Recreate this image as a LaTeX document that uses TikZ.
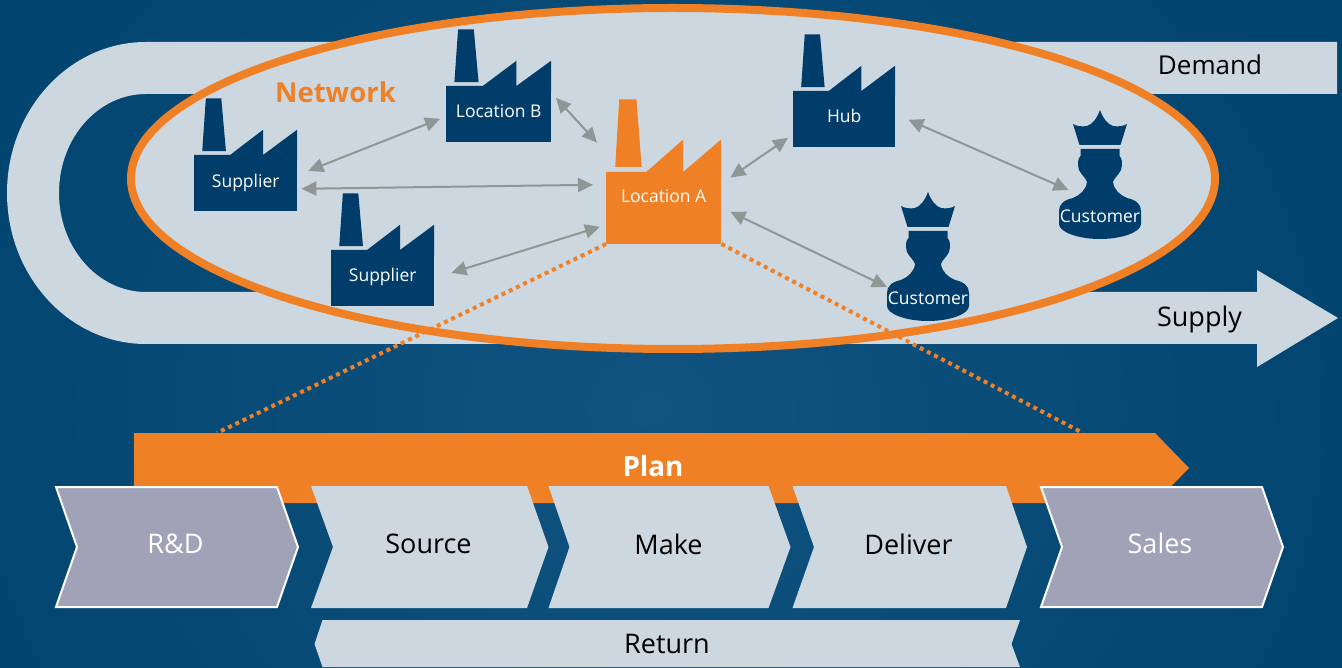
\documentclass[tikz,border=0pt]{standalone}
\usepackage{fontspec}
\setmainfont{Open Sans}
\usetikzlibrary{arrows.meta}
\definecolor{bgdark}{HTML}{00446F}
\definecolor{bglight}{HTML}{125380}
\definecolor{palegray}{HTML}{CDD7E0}
\definecolor{netorange}{HTML}{F08025}
\definecolor{navy}{HTML}{003D6A}
\definecolor{stepgray}{HTML}{A0A2B8}
\definecolor{linkgray}{HTML}{8E9796}
\tikzset{
	linkarrow/.style={draw=linkgray, line width=2pt, {Triangle[length=15pt,width=14pt]}-{Triangle[length=15pt,width=14pt]}},
	zoomline/.style={draw=netorange, line width=4pt, dash pattern=on 4pt off 4pt},
	smalllabel/.style={text=white, font=\fontsize{17.5}{21}\selectfont, inner sep=0pt},
	biglabel/.style={text=black, font=\fontsize{27}{32}\selectfont, inner sep=0pt},
	lightstep/.style={fill=palegray},
	outerstep/.style={fill=stepgray, draw=white, line width=2pt},
	factorybody/.style={rectangle, inner sep=0pt, anchor=south west, smalllabel},
	pics/factory/.style n args={5}{code={
		\fill[#1] ({#3*0.115},{-#4*2.01}) -- ({#3*0.265},{-#4*2.01}) -- ({#3*0.31},{-#4*1.07}) -- ({#3*0.08},{-#4*1.07}) -- cycle;
		\fill[#1] (0,{-#4*0.9}) -- (0,{-#4}) -- ({#3*0.35},{-#4}) -- ({#3*0.67},{-#4*1.45}) -- ({#3*0.67},{-#4}) -- (#3,{-#4*1.45}) -- (#3,{-#4*0.9}) -- cycle;
		\node[factorybody, fill=#1, minimum width=#3 pt, minimum height=#4 pt] (-body) at (0,0) {\raisebox{#5pt}{#2}};
	}},
	pics/customer/.style={code={
		\fill[navy] (0,0) .. controls (3,8) and (7,14) .. (13,16) .. controls (18,17) and (24,16) .. (27,14) -- (20.5,35) -- (-20.5,35) -- (-27,14) .. controls (-24,16) and (-18,17) .. (-13,16) .. controls (-7,14) and (-3,8) .. (0,0) -- cycle;
		\fill[navy] (-19.5,39) -- (19.5,39) -- (19.5,46) .. controls (22,48) and (23,54) .. (21,60) .. controls (18,66) and (14,68) .. (13,72) .. controls (14,80) and (20,85) .. (27,88) .. controls (36,90) and (41,94) .. (41,101) -- (41,114) .. controls (41,122) and (22,129) .. (0,129) .. controls (-22,129) and (-41,122) .. (-41,114) -- (-41,101) .. controls (-41,94) and (-36,90) .. (-27,88) .. controls (-20,85) and (-14,80) .. (-13,72) .. controls (-14,68) and (-18,66) .. (-21,60) .. controls (-23,54) and (-22,48) .. (-19.5,46) -- cycle;
		\node[smalllabel] (-label) at (0,106.5) {Customer};
	}}
}
\begin{document}
\begin{tikzpicture}[x=1pt,y=-1pt]
	\useasboundingbox (0,0) rectangle (1342,668);
	\clip (0,0) rectangle (1342,668);
	\shade[inner color=bglight, outer color=bgdark] (-100,-270) rectangle (1400,1090);

	% demand and supply band
	\fill[palegray] (146,42) -- (1337,42) -- (1337,94) -- (146,94) .. controls (98,94) and (59,138) .. (59,193) .. controls (59,248) and (98,292) .. (146,292) -- (1257,292) -- (1257,270) -- (1338,318) -- (1257,367) -- (1257,344) -- (146,344) .. controls (69,344) and (7,276) .. (7,193) .. controls (7,110) and (69,42) .. (146,42) -- cycle;
	\node[biglabel, font=\fontsize{26}{32}\selectfont] (demand) at (1210,64.5) {Demand};
	\node[biglabel] (supply) at (1199.5,319) {Supply};

	% network
	\draw[draw=netorange, fill=palegray, line width=8pt] (673,178.5) ellipse [x radius=542pt, y radius=170.5pt];
	\node[text=netorange, inner sep=0pt, font=\fontsize{27.5}{32}\selectfont\bfseries] (network) at (335.5,92) {Network};

	\pic (supA) at (194,211) {factory={navy}{Supplier}{103}{56}{2}};
	\pic (locB) at (446,142) {factory={navy}{Location B}{105}{56}{6}};
	\pic (supB) at (331,306) {factory={navy}{Supplier}{103}{56}{6}};
	\pic (hub) at (793,147) {factory={navy}{Hub}{102}{56}{6}};
	\pic (locA) at (606,244) {factory={netorange}{Location A}{115}{72}{24}};
	\pic (custA) at (928,192) {customer};
	\pic (custB) at (1100,110) {customer};

	\draw[linkarrow] ([shift={(11,-12)}]supA-body.east) -- ([shift={(-6,5)}]locB-body.west);
	\draw[linkarrow] ([shift={(4,6)}]supA-body.east) -- ([shift={(-13,-23)}]locA-body.west);
	\draw[linkarrow] ([shift={(4.5,-16)}]locB-body.east) -- ([shift={(-9,-29)}]locA-body.north west);
	\draw[linkarrow] ([shift={(17,-5)}]supB-body.east) -- ([shift={(-6,19)}]locA-body.west);
	\draw[linkarrow] ([shift={(9,6)}]locA-body.north east) -- ([shift={(-5,19)}]hub-body.west);
	\draw[linkarrow] ([shift={(9,4)}]locA-body.east) -- ([shift={(-41,-11.5)}]custA-label.center);
	\draw[linkarrow] ([shift={(13,1)}]hub-body.east) -- ([shift={(-31.5,-26.5)}]custB-label.center);

	% plan arrow
	\fill[netorange] (134,433) -- (1155,433) -- (1189,468) -- (1155,503) -- (134,503) -- cycle;
	\node[text=white, inner sep=0pt, font=\fontsize{27.8}{32}\selectfont\bfseries] (plan) at (653,466) {Plan};
	\coordinate (planL) at (217,433);
	\coordinate (planR) at (1083,433);
	\draw[zoomline] (locA-body.south west) -- (planL);
	\draw[zoomline] (locA-body.south east) -- (planR);

	% process steps
	\draw[outerstep] (56,487) -- (277,487) -- (298,547) -- (277,607) -- (56,607) -- (77,547) -- cycle;
	\node[biglabel, text=white] (rnd) at (175.5,544) {R\&D};
	\fill[lightstep] (311,486) -- (527,486) -- (548.5,547) -- (527,608) -- (311,608) -- (333,547) -- cycle;
	\node[biglabel] (source) at (428.5,544) {Source};
	\fill[lightstep] (548.5,486) -- (768.5,486) -- (790.5,547) -- (768.5,608) -- (548.5,608) -- (569.5,547) -- cycle;
	\node[biglabel] (make) at (668.5,544) {Make};
	\fill[lightstep] (792.5,486) -- (1006,486) -- (1027,547) -- (1006,608) -- (792.5,608) -- (814,547) -- cycle;
	\node[biglabel] (deliver) at (908.5,544) {Deliver};
	\draw[outerstep] (1041,487) -- (1262,487) -- (1283,547) -- (1262,607) -- (1041,607) -- (1062,547) -- cycle;
	\node[biglabel, text=white] (sales) at (1160,543.5) {Sales};
	\fill[lightstep] (322.5,620) -- (1020,620) -- (1011.5,644) -- (1020,667) -- (322.5,667) -- (314.5,644) -- cycle;
	\node[biglabel] (return) at (667,644) {Return};
\end{tikzpicture}
\end{document}
